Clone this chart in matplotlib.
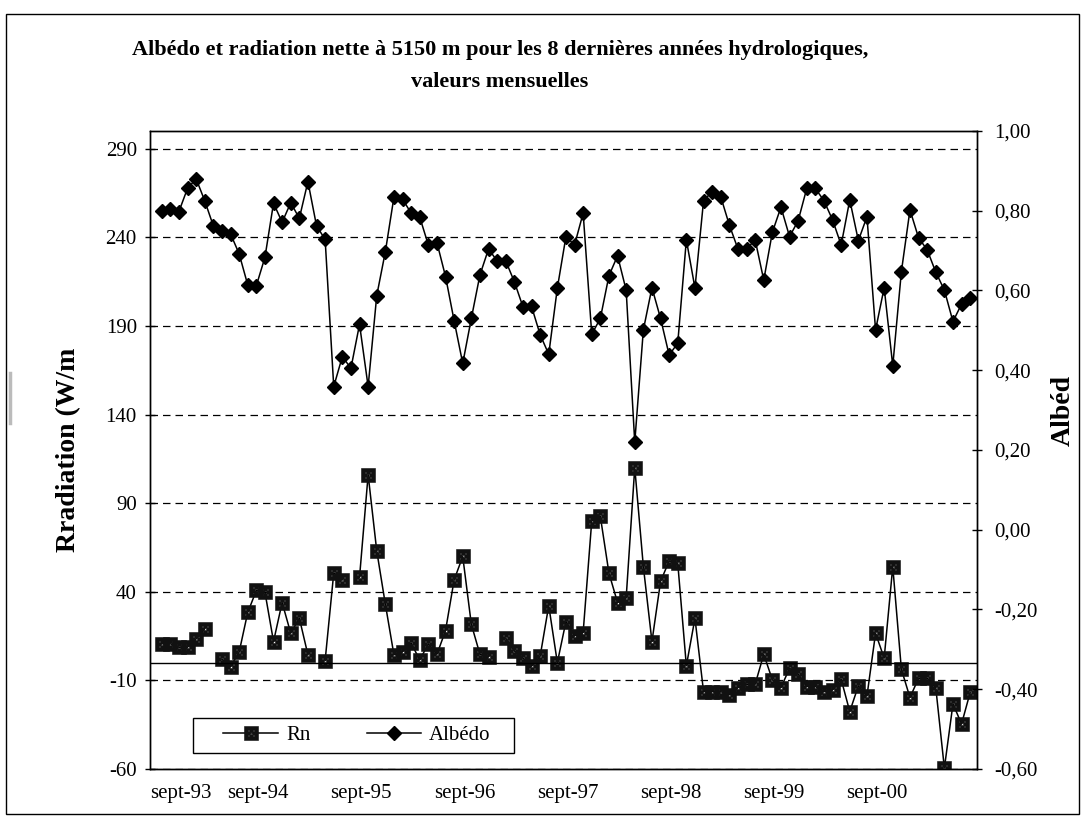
import numpy as np
import matplotlib.pyplot as plt
from matplotlib.path import Path
from matplotlib.lines import Line2D
from matplotlib.patches import Rectangle

plt.rcParams['font.family'] = ['Liberation Serif', 'DejaVu Serif']
plt.rcParams['axes.unicode_minus'] = False

# monthly values, sept-93 onwards (nan = no measurement)
nan = np.nan
rn = [10.6, 10.6, 8.7, 8.7, 13.4, 19.1, nan, 1.9, -2.2, 5.9,
      28.3, 40.7, 39.8, 11.9, 33.9, 16.6, 25.1, 4.4, nan, 1.2,
      50.5, 46.7, nan, 48.2, 106.0, 63.1, 33.0, 4.4, 6.2, 11.0,
      1.5, 10.6, 4.7, 18.1, 46.7, 59.9, 21.6, 4.7, 3.4, nan,
      13.8, 6.6, 2.5, -2.0, 3.6, 32.2, 0.0, 23.2, 15.1, 17.0,
      80.0, 82.5, 50.5, 33.9, 36.4, 110.1, 54.2, 11.9, 45.8, 57.4,
      56.1, -1.8, 25.0, -16.4, -16.4, -16.4, -18.2, -14.1, -12.2, -12.2,
      4.7, -9.7, -14.1, -3.2, -6.5, -13.5, -13.5, -16.4, -15.4, -9.4,
      -27.6, -13.1, -18.8, 16.6, 2.5, 54.2, -3.7, -19.7, -8.8, -8.8,
      -14.1, -59.5, -23.3, -34.6, -16.8]
albedo = [0.799, 0.804, 0.798, 0.856, 0.880, 0.825, 0.762, 0.750, 0.742, 0.692,
          0.614, 0.612, 0.683, 0.819, 0.771, 0.820, 0.781, 0.873, 0.762, 0.728,
          0.359, 0.434, 0.405, 0.515, 0.359, 0.587, 0.697, 0.834, 0.829, 0.794,
          0.784, 0.714, 0.720, 0.635, 0.524, 0.417, 0.530, 0.639, 0.704, 0.674,
          0.674, 0.622, 0.559, 0.560, 0.489, 0.440, 0.606, 0.735, 0.714, 0.794,
          0.490, 0.530, 0.637, 0.687, 0.601, 0.219, 0.501, 0.607, 0.530, 0.438,
          0.468, 0.727, 0.606, 0.825, 0.848, 0.835, 0.764, 0.704, 0.704, 0.727,
          0.626, 0.746, 0.809, 0.735, 0.775, 0.856, 0.856, 0.825, 0.777, 0.714,
          0.827, 0.725, 0.785, 0.501, 0.607, 0.411, 0.647, 0.802, 0.732, 0.702,
          0.646, 0.601, 0.522, 0.566, 0.582]
year_labels = ["sept-93", "sept-94", "sept-95", "sept-96",
               "sept-97", "sept-98", "sept-99", "sept-00"]

months = np.arange(len(rn))


# dark square with little light dots, like the excel pattern marker
def dotted_square(h=0.1):
    verts = [(-1, -1), (1, -1), (1, 1), (-1, 1), (-1, -1)]
    codes = [Path.MOVETO, Path.LINETO, Path.LINETO, Path.LINETO, Path.CLOSEPOLY]
    for cx, cy in [(-0.42, -0.42), (0.42, -0.42), (-0.42, 0.42), (0.42, 0.42), (0, 0)]:
        verts += [(cx - h, cy - h), (cx - h, cy + h), (cx + h, cy + h), (cx + h, cy - h), (cx - h, cy - h)]
        codes += [Path.MOVETO, Path.LINETO, Path.LINETO, Path.LINETO, Path.CLOSEPOLY]
    return Path(verts, codes)


fig = plt.figure(figsize=(10.84, 8.17), dpi=100)
ax = fig.add_axes([0.1384, 0.0588, 0.7627, 0.7809])
ax2 = ax.twinx()

l1, = ax.plot(months, rn, color='black', lw=1.1, marker=dotted_square(), ms=9.5,
              mfc='#111111', mec='#111111', mew=0.4)
l2, = ax2.plot(months, albedo, color='black', lw=1.1, marker='D', ms=7.5,
               mfc='black', mec='black')

# left axis
ax.set_ylim(-60, 300)
ax.set_yticks(np.arange(-60, 291, 50))
ax.set_xlim(-1.36, 94.77)
ax.grid(axis='y', ls=(0, (6, 4)), color='black', lw=0.9)
ax.axhline(0, color='black', lw=1)
ax.tick_params(axis='y', direction='inout', length=7, width=1, pad=6, labelsize=15)

# x labels, first one pushed inside like excel does
xt = [-1.36] + [12 * k - 0.8 for k in range(1, len(year_labels))]
ax.set_xticks(xt)
ax.set_xticklabels(year_labels)
ax.tick_params(axis='x', length=0, pad=11, labelsize=15)
ax.get_xticklabels()[0].set_horizontalalignment('left')

# right axis
ax2.set_ylim(-0.6, 1.0)
rt = np.round(np.arange(-0.6, 1.01, 0.2), 2)
ax2.set_yticks(rt)
ax2.set_yticklabels([("%.2f" % (v + 0.0)).replace('.', ',') for v in rt])
ax2.tick_params(axis='y', direction='inout', length=7, width=1, pad=9, labelsize=15)

for a in (ax, ax2):
    for s in a.spines.values():
        s.set_linewidth(1)
        s.set_color('black')

# legend: content centred, frame drawn separately (excel box is wider)
leg = ax2.legend([l1, l2], ['Rn', 'Albédo'], ncol=2, loc='center',
                 bbox_to_anchor=(0.2504, 0.0525), frameon=False, fontsize=15,
                 handlelength=2.6, handletextpad=0.4, columnspacing=2.7,
                 borderpad=0, borderaxespad=0)
ax2.add_patch(Rectangle((0.052, 0.0251), 0.3883, 0.0549, transform=ax2.transAxes,
                        fill=True, fc='white', ec='black', lw=1, zorder=4))
leg.set_zorder(5)

fig.text(500 / 1084, 1 - 50 / 817,
         "Albédo et radiation nette à 5150 m pour les 8 dernières années hydrologiques,",
         ha='center', va='center', fontsize=16, fontweight='bold')
fig.text(500 / 1084, 1 - 82 / 817, "valeurs mensuelles",
         ha='center', va='center', fontsize=16, fontweight='bold')

fig.text(69 / 1084, 1 - 450 / 817, "Rradiation (W/m", rotation=90,
         ha='center', va='center', fontsize=20, fontweight='bold')
fig.text(1063 / 1084, 1 - 410 / 817, "Albéd", rotation=90,
         ha='center', va='center', fontsize=20, fontweight='bold')

# chart area border + little grey scan mark on the left
fig.add_artist(Rectangle((6 / 1084, 3 / 817), 1073 / 1084, 800 / 817,
                         transform=fig.transFigure, fill=False, ec='black', lw=1))
fig.add_artist(Line2D([10 / 1084, 10 / 1084], [1 - 373 / 817, 1 - 423 / 817],
                      transform=fig.transFigure, color='#bbbbbb', lw=2.5))

fig.savefig('out.png', dpi=100)
